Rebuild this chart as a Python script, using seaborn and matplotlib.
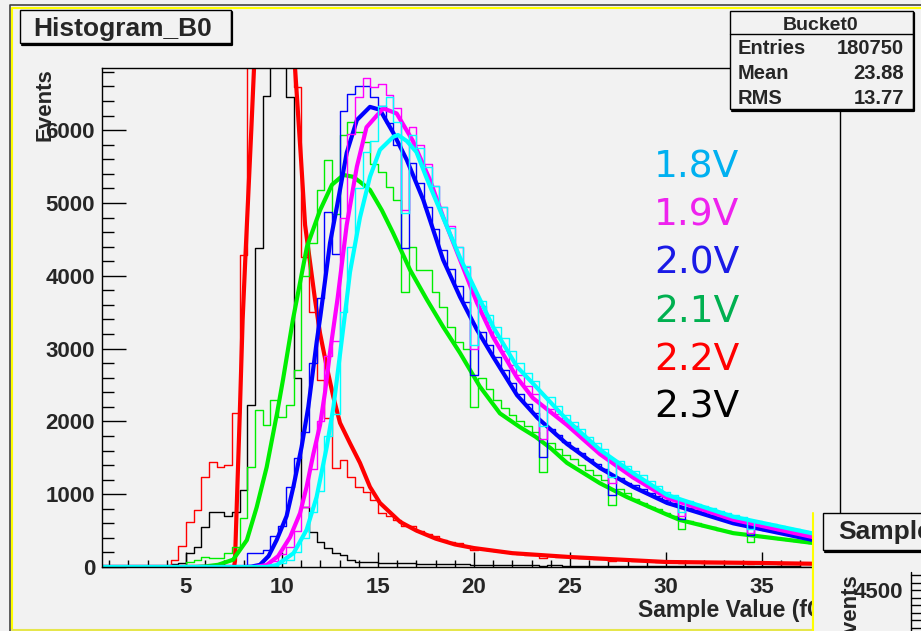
import matplotlib
matplotlib.use("Agg")
import matplotlib.pyplot as plt
from matplotlib.patches import Rectangle
from matplotlib.ticker import MultipleLocator
import seaborn as sns
import numpy as np

# ROOT canvas "Histogram_B0": pulse-height spectra at six bias voltages,
# 0.4 wide bins starting at 0.2, plus the fitted curves (thick lines).
bin_lo, bin_w, n_bins = 0.2, 0.4, 95

hist_23V = [0, 0, 0, 0, 0, 0, 0, 0, 0, 0,
            45, 55, 190, 280, 550, 755, 755, 700, 755, 1060,
            2225, 4380, 6470, 9000, 9500, 6450, 2600, 820, 480, 345,
            260, 190, 160, 100, 75, 70, 62, 60, 58, 55,
            50, 52, 48, 46, 44, 42, 40, 38, 36, 30,
            32, 30, 29, 28, 27, 26, 25, 24, 20, 22,
            21, 20, 19, 18, 18, 17, 16, 13, 15, 15,
            14, 14, 13, 13, 12, 12, 10, 11, 11, 10,
            10, 10, 9, 9, 9, 7, 8, 8, 8, 7,
            7, 7, 6, 6, 5]
hist_22V = [0, 0, 0, 0, 0, 0, 0, 0, 0, 0,
            96, 293, 622, 783, 1240, 1447, 1378, 1400, 2110, 4290,
            8500, 9500, 9800, 9700, 9000, 7800, 6590, 4260, 3500, 2570,
            2040, 1360, 1470, 1240, 1100, 1030, 920, 740, 700, 640,
            560, 560, 500, 450, 420, 375, 350, 325, 290, 235,
            250, 228, 214, 205, 190, 178, 170, 160, 120, 150,
            142, 138, 133, 127, 120, 115, 110, 82, 95, 90,
            86, 81, 78, 75, 71, 68, 55, 64, 62, 61,
            60, 59, 58, 57, 56, 45, 54, 52, 50, 48,
            46, 44, 42, 41, 33]
hist_21V = [0, 0, 0, 0, 0, 0, 0, 0, 0, 0,
            0, 0, 70, 100, 140, 125, 125, 190, 280, 670,
            1380, 2150, 1950, 2290, 2060, 2225, 2700, 4000, 4450, 5180,
            5590, 4850, 5930, 6110, 5980, 5840, 5530, 5430, 5220, 5040,
            3780, 4400, 4080, 4080, 3780, 3570, 3300, 3090, 3000, 2200,
            2600, 2440, 2300, 2180, 2090, 2010, 1930, 1860, 1300, 1700,
            1620, 1540, 1480, 1400, 1330, 1260, 1200, 850, 1070, 1020,
            930, 880, 830, 790, 740, 700, 520, 630, 600, 570,
            545, 515, 490, 470, 455, 350, 425, 410, 395, 380,
            368, 357, 345, 335, 270]
hist_20V = [0, 0, 0, 0, 0, 0, 0, 0, 0, 0,
            0, 0, 0, 0, 0, 0, 0, 0, 0, 0,
            196, 196, 230, 420, 570, 1100, 1500, 1850, 2800, 3700,
            4880, 4300, 6270, 6500, 6610, 6610, 6455, 6330, 6100, 5800,
            4380, 5550, 5280, 4950, 4640, 4350, 4100, 3860, 3640, 2640,
            3230, 3050, 2880, 2700, 2530, 2380, 2240, 2120, 1510, 1900,
            1810, 1720, 1640, 1560, 1480, 1410, 1340, 990, 1220, 1160,
            1120, 1070, 1020, 970, 920, 885, 660, 810, 780, 750,
            710, 685, 645, 615, 590, 440, 535, 515, 495, 475,
            455, 435, 415, 392, 300]
hist_19V = [0, 0, 0, 0, 0, 0, 0, 0, 0, 0,
            0, 0, 0, 0, 0, 0, 0, 0, 0, 0,
            0, 0, 40, 80, 180, 280, 500, 820, 1350, 2000,
            2900, 3100, 4800, 5950, 6460, 6710, 6590, 6640, 6480, 6300,
            4900, 6040, 5790, 5530, 5230, 4940, 4680, 4400, 4120, 3000,
            3590, 3370, 3160, 2970, 2780, 2640, 2490, 2370, 1760, 2170,
            2100, 2020, 1930, 1830, 1730, 1640, 1560, 1150, 1410, 1330,
            1245, 1185, 1110, 1040, 990, 945, 700, 865, 825, 795,
            760, 730, 700, 670, 640, 470, 585, 560, 535, 515,
            495, 470, 450, 428, 320]
hist_18V = [0, 0, 0, 0, 0, 0, 0, 0, 0, 0,
            0, 0, 0, 0, 0, 0, 0, 0, 0, 0,
            0, 0, 0, 20, 50, 100, 200, 400, 750, 1050,
            1800, 2100, 3500, 4400, 5200, 5700, 5850, 6330, 6455, 6110,
            4860, 5930, 5750, 5490, 5240, 4940, 4660, 4390, 4130, 3050,
            3660, 3460, 3300, 3140, 2970, 2800, 2670, 2550, 1940, 2330,
            2210, 2090, 1990, 1900, 1790, 1700, 1620, 1230, 1460, 1390,
            1320, 1260, 1185, 1110, 1035, 990, 750, 905, 870, 835,
            805, 775, 740, 710, 680, 520, 630, 610, 585, 560,
            540, 520, 500, 480, 370]

# fitted curves, points
fit_22V_x = [0.5, 7.5, 7.55, 7.65, 7.8, 7.95, 8.1, 8.25, 8.4, 8.55, 8.8, 9.2, 9.6, 10.0,
             10.4, 10.68, 10.99, 11.2, 11.72, 11.98, 12.33, 12.67, 13.02, 13.54, 14.06,
             14.58, 15.1, 16.15, 17.0, 18.0, 19.0, 20.0, 22.0, 25.0, 30.0, 35.0, 39.5]
fit_22V_y = [0, 0, 80, 900, 2100, 3400, 4300, 5150, 6000, 6900, 8000, 9100, 9500, 9200,
             7900, 6850, 5600, 4700, 3670, 3210, 2750, 2340, 1980, 1700, 1430,
             1100, 880, 620, 500, 390, 310, 260, 190, 137, 69, 55, 38]
fit_21V_x = [0.5, 5.5, 6.0, 6.67, 7.45, 8.17, 8.68, 9.2, 9.74, 10.05, 10.57, 11.3, 11.98,
             12.6, 13.2, 13.7, 14.06, 14.58, 15.2, 15.78, 16.67, 17.55, 18.39, 19.27,
             20.3, 21.35, 22.4, 23.2, 24.0, 24.84, 26.56, 27.97, 30.0, 30.73, 33.5,
             37.66, 39.5]
fit_21V_y = [0, 0, 8, 30, 100, 370, 820, 1370, 2110, 2570, 3400, 4400, 4900,
             5250, 5385, 5360, 5290, 5180, 4900, 4590, 4080, 3670, 3300, 2940,
             2480, 2110, 1920, 1790, 1630, 1430, 1150, 960, 725, 645, 465,
             330, 290]
fit_20V_x = [0.5, 8.0, 8.4, 8.85, 9.3, 9.72, 10.24, 10.59, 11.02, 11.37, 11.81, 12.0,
             12.5, 12.86, 13.37, 13.9, 14.58, 15.1, 15.8, 16.5, 17.36, 18.39, 19.27,
             20.15, 20.99, 22.24, 23.3, 24.84, 26.56, 28.28, 30.05, 33.5, 37.66, 39.5]
fit_20V_y = [0, 0, 5, 30, 150, 370, 700, 1100, 1650, 2200, 3100, 3450,
             4450, 4950, 5690, 6140, 6320, 6280, 5960, 5590, 5040, 4220, 3710,
             3260, 2890, 2360, 2050, 1690, 1360, 1100, 880, 600, 370, 320]
fit_19V_x = [0.5, 8.6, 9.2, 9.8, 10.42, 10.94, 11.28, 11.63, 11.98, 12.24, 12.5, 12.9,
             13.37, 13.9, 14.4, 15.27, 15.97, 16.8, 17.7, 18.39, 19.27, 20.15, 20.99,
             22.24, 23.07, 24.84, 26.56, 28.28, 30.05, 33.5, 37.66, 39.5]
fit_19V_y = [0, 0, 27, 150, 410, 740, 1100, 1550, 1950, 2400, 2950, 3700,
             4700, 5500, 6040, 6300, 6230, 5860, 5320, 4810, 4220, 3630, 3160,
             2600, 2320, 1950, 1550, 1230, 950, 650, 410, 360]
fit_18V_x = [0.5, 9.2, 9.72, 10.6, 11.28, 11.8, 12.33, 12.68, 12.94, 13.37, 13.54, 14.06,
             14.58, 15.1, 15.8, 16.04, 16.5, 17.0, 17.55, 18.39, 19.27, 20.15, 20.99,
             22.24, 23.07, 24.84, 26.56, 28.28, 30.05, 33.5, 37.66, 39.5]
fit_18V_y = [0, 0, 27, 190, 510, 960, 1650, 2200, 2750, 3670, 4050, 4800,
             5360, 5730, 5910, 5934, 5850, 5700, 5330, 4800, 4250, 3760, 3300,
             2750, 2520, 2020, 1610, 1290, 990, 690, 460, 410]

volt_labels = ["1.8V", "1.9V", "2.0V", "2.1V", "2.2V", "2.3V"]
stats_rows = [("Entries", "180750"), ("Mean", "23.88"), ("RMS", "13.77")]

BG = "#f2f2f2"
W, H = 921, 631

sns.set_theme(style="white")
plt.rcParams["font.family"] = ["Liberation Sans", "DejaVu Sans"]

fig = plt.figure(figsize=(W / 100, H / 100), dpi=100, facecolor=BG)
# frame of the ROOT pad, in pixels: x 102..840, y 68..567
ax = fig.add_axes([102 / W, 1 - 567 / H, (840 - 102) / W, (567 - 68) / H])
ax.set_facecolor(BG)

edges = list(bin_lo + bin_w * np.arange(n_bins + 1))
centers = [e + bin_w / 2 for e in edges[:-1]]

series = [
    (hist_23V, None, None, "black"),
    (hist_22V, fit_22V_x, fit_22V_y, "#ff0000"),
    (hist_21V, fit_21V_x, fit_21V_y, "#00ee00"),
    (hist_20V, fit_20V_x, fit_20V_y, "#0000ff"),
    (hist_19V, fit_19V_x, fit_19V_y, "#ff00ff"),
    (hist_18V, fit_18V_x, fit_18V_y, "#00ffff"),
]
for counts, fx, fy, col in series:
    sns.histplot(x=centers, weights=counts, bins=edges, element="step", fill=False,
                 color=col, linewidth=1.0, ax=ax)
    if fx is not None:
        sns.lineplot(x=fx, y=fy, color=col, linewidth=3.0, ax=ax)

ax.set_xlim(0.625, 39.06)
ax.set_ylim(0, 6854)
ax.set_xlabel("")
ax.set_ylabel("")

ax.set_xticks([5, 10, 15, 20, 25, 30, 35])
ax.set_xticklabels(["5", "10", "15", "20", "25", "30", "35"], fontweight="bold", fontsize=16)
ax.set_yticks([0, 1000, 2000, 3000, 4000, 5000, 6000])
ax.set_yticklabels(["0", "1000", "2000", "3000", "4000", "5000", "6000"],
                   fontweight="bold", fontsize=16)
ax.xaxis.set_minor_locator(MultipleLocator(1))
ax.yaxis.set_minor_locator(MultipleLocator(200))
ax.tick_params(which="both", direction="in", color="black", width=1.0,
               bottom=True, left=True, top=False, right=False)
ax.tick_params(axis="y", which="major", length=17, pad=5)
ax.tick_params(axis="y", which="minor", length=8.5)
ax.tick_params(axis="x", which="major", length=11, pad=7)
ax.tick_params(axis="x", which="minor", length=5)
for sp in ax.spines.values():
    sp.set_color("black")
    sp.set_linewidth(1.0)

# overlay in pixel coordinates for the canvas decorations
ov = fig.add_axes([0, 0, 1, 1], zorder=5)
ov.set_xlim(0, W)
ov.set_ylim(H, 0)
ov.axis("off")
ov.patch.set_alpha(0)

# second canvas poking in at the lower right
ov.add_patch(Rectangle((813.5, 513), 120, 130, facecolor=BG, edgecolor="none"))
ov.plot([813, 813], [513, 631], color="#ffff00", lw=1.5)

# pad borders
ov.plot([9.5, 9.5, W], [H, 5, 5], color="#444444", lw=1.2)
ov.plot([12, 12, W], [629, 8, 8], color="#ffff00", lw=1.5)
ov.plot([12, 813], [629.5, 629.5], color="#e6e64c", lw=1.5)

# axis titles
ov.text(45, 68, "Events", rotation=90, ha="center", va="top", fontsize=16, fontweight="bold")
ov.text(638, 617, "Sample Value (fC)", ha="left", va="baseline", fontsize=16.5,
        fontweight="bold", zorder=1)
ov.add_patch(Rectangle((814, 560), 120, 80, facecolor=BG, edgecolor="none", zorder=2))
ov.plot([813, 813], [560, 631], color="#ffff00", lw=1.5, zorder=3)

# title box
ov.add_patch(Rectangle((19.5, 9.5), 211, 33.5, facecolor=BG, edgecolor="black", lw=1.0))
ov.plot([22, 232.3, 232.3], [44.5, 44.5, 12], color="black", lw=1.6)
ov.text(33, 36, "Histogram_B0", ha="left", va="baseline", fontsize=19, fontweight="bold")

# stats box
ov.add_patch(Rectangle((729.5, 10.5), 183, 98.5, facecolor=BG, edgecolor="black", lw=1.0))
ov.plot([732, 914.3, 914.3], [110.5, 110.5, 13], color="black", lw=1.6)
ov.plot([729.5, 912.5], [33.5, 33.5], color="black", lw=1.0)
ov.text(821, 30, "Bucket0", ha="center", va="baseline", fontsize=14, fontweight="bold")
for (name, val), yb in zip(stats_rows, [54, 79, 104]):
    ov.text(738, yb, name, ha="left", va="baseline", fontsize=14.5, fontweight="bold")
    ov.text(904, yb, val, ha="right", va="baseline", fontsize=14.5, fontweight="bold")

# pieces of the neighbouring canvas
ov.add_patch(Rectangle((822.5, 513), 120, 37, facecolor=BG, edgecolor="black", lw=1.0, zorder=4))
ov.plot([825, 925], [552, 552], color="black", lw=1.6, zorder=4)
ov.text(838, 539, "Sample", ha="left", va="baseline", fontsize=19, fontweight="bold", zorder=4)
ov.text(850, 573, "Events", rotation=90, ha="center", va="top", fontsize=16,
        fontweight="bold", zorder=4)
ov.text(903, 598, "4500", ha="right", va="baseline", fontsize=16, fontweight="bold", zorder=4)
ov.plot([910.5, 910.5], [572, H], color="black", lw=1.0, zorder=4)
for yt in [575, 582.5, 590, 597.5, 605, 612.5, 620, 627.5]:
    ov.plot([910.5, W], [yt, yt], color="black", lw=1.0, zorder=4)

# voltage annotations
label_cols = ["#00b0f0", "#ee22ee", "#1a1ae6", "#00b050", "#ff0000", "#000000"]
for i, (txt, c) in enumerate(zip(volt_labels, label_cols)):
    ov.text(654, 178 + 48 * i, txt, color=c, fontsize=27, family="DejaVu Sans",
            ha="left", va="baseline")

fig.savefig("out.png", dpi=100, facecolor=BG)
